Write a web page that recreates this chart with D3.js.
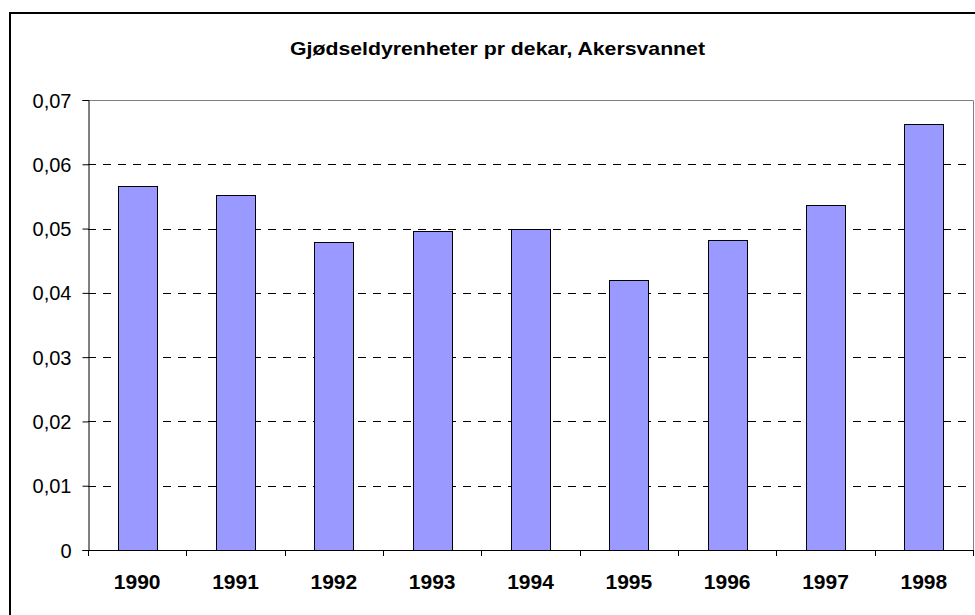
<!DOCTYPE html>
<html>
<head>
<meta charset="utf-8">
<script src="https://cdn.jsdelivr.net/npm/d3@7"></script>
<style>
  html, body { margin: 0; padding: 0; background: #fff; }
  svg { display: block; font-family: Arial, "Liberation Sans", sans-serif; }
</style>
</head>
<body>
<svg id="chart" width="975" height="615"></svg>
<script>
// Gjødseldyrenheter pr dekar — Akersvannet, 1990–1998
const years = ['1990', '1991', '1992', '1993', '1994', '1995', '1996', '1997', '1998'];
const values = [0.0566, 0.0552, 0.0479, 0.0496, 0.0499, 0.0420, 0.0482, 0.0536, 0.0663];
const yTicks = [0, 0.01, 0.02, 0.03, 0.04, 0.05, 0.06, 0.07];
const title = 'Gjødseldyrenheter pr dekar, Akersvannet';

const svg = d3.select('#chart');
const plot = { left: 88, top: 100, right: 973, bottom: 550 };

const no = d3.formatLocale({ decimal: ',', thousands: ' ', grouping: [3], currency: ['', ' kr'] });
const fmt = d => d === 0 ? '0' : no.format('.2f')(d);

const x = d3.scaleBand().domain(years)
  .range([plot.left, plot.right]).paddingInner(0.6).paddingOuter(0.3);
const y = d3.scaleLinear().domain([0, 0.07]).range([plot.bottom, plot.top]);

// ytre ramme
svg.append('rect')
  .attr('x', 10).attr('y', 13).attr('width', 990).attr('height', 640)
  .attr('fill', 'none').attr('stroke', '#000').attr('stroke-width', 2);

// tittel
svg.append('text')
  .attr('x', 497.5).attr('y', 55)
  .attr('text-anchor', 'middle')
  .attr('font-size', 18.5).attr('font-weight', 'bold')
  .attr('textLength', 415).attr('lengthAdjust', 'spacingAndGlyphs')
  .text(title);

// rutenett
svg.append('g').selectAll('line')
  .data(yTicks.filter(t => t > 0 && t < 0.07))
  .join('line')
  .attr('x1', plot.left).attr('x2', plot.right)
  .attr('y1', d => Math.round(y(d)) + 0.5).attr('y2', d => Math.round(y(d)) + 0.5)
  .attr('stroke', '#000').attr('stroke-dasharray', '8,7');

// plottramme (topp og høyre)
svg.append('path')
  .attr('d', `M${plot.left},${y(0.07) + 0.5}H${plot.right + 0.5}V${plot.bottom}`)
  .attr('fill', 'none').attr('stroke', '#808080');

// søyler
svg.append('g').selectAll('rect')
  .data(years.map((yr, i) => ({ yr, v: values[i] })))
  .join('rect')
  .attr('x', d => Math.round(x(d.yr)) + 0.5)
  .attr('y', d => Math.round(y(d.v)) + 0.5)
  .attr('width', Math.round(x.bandwidth()))
  .attr('height', d => Math.round(y(0)) - Math.round(y(d.v)))
  .attr('fill', '#9999FF').attr('stroke', '#000').attr('stroke-width', 1);

// y-akse
const yAxis = svg.append('g')
  .attr('transform', `translate(${plot.left + 0.5},0)`)
  .call(d3.axisLeft(y).tickValues(yTicks).tickFormat(fmt).tickSize(6).tickPadding(11));
yAxis.select('.domain').attr('stroke', '#000');
yAxis.selectAll('.tick line').attr('stroke', '#000');
yAxis.selectAll('.tick text')
  .attr('font-family', 'Arial, "Liberation Sans", sans-serif')
  .attr('font-size', 20).attr('fill', '#000').attr('dy', '0.35em');

// x-akse
const step = x.step();
const edge0 = x(years[0]) - step * x.paddingInner() / 2;
const bounds = d3.range(years.length + 1).map(i => edge0 + i * step);
const xg = svg.append('g');
xg.append('line')
  .attr('x1', plot.left).attr('x2', plot.right + 1)
  .attr('y1', y(0) + 0.5).attr('y2', y(0) + 0.5)
  .attr('stroke', '#000');
xg.selectAll('line.tk').data(bounds).join('line').attr('class', 'tk')
  .attr('x1', d => Math.round(d) + 0.5).attr('x2', d => Math.round(d) + 0.5)
  .attr('y1', y(0)).attr('y2', y(0) + 6)
  .attr('stroke', '#000');
xg.selectAll('text').data(years).join('text')
  .attr('x', d => x(d) + x.bandwidth() / 2)
  .attr('y', 589)
  .attr('text-anchor', 'middle')
  .attr('font-size', 21).attr('font-weight', 'bold')
  .text(d => d);
</script>
</body>
</html>
